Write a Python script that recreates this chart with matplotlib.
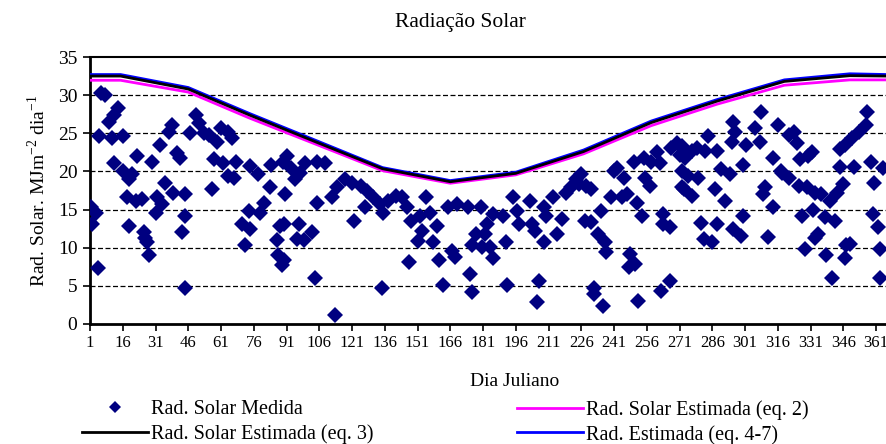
import matplotlib
matplotlib.use('Agg')
import matplotlib.pyplot as plt

plt.rcParams['font.family'] = ['Liberation Serif', 'DejaVu Serif']
plt.rcParams['mathtext.fontset'] = 'custom'
plt.rcParams['mathtext.rm'] = 'Liberation Serif'

# measured daily radiation (Julian day, MJ m-2 day-1)
dias_med = [
    1.5, 2, 3.7, 4.5, 5, 6, 8, 9.8, 11, 12, 12, 13.6, 16, 16, 18, 19, 19, 20.4,
    22, 22.7, 25, 25.7, 26, 27, 28, 29.5, 31, 31.8, 33, 34, 35.5, 37, 38.5, 39,
    41, 42, 43, 44.6, 44.6, 44.6,
    47, 49.5, 51, 53, 55.5, 57, 58, 59, 61, 62, 64, 64, 66, 67, 68, 70.7, 72,
    73.7, 74.5, 74.5, 78, 79, 80.5, 83.6, 84, 86.6, 87, 88, 89, 89.6,
    90, 90, 90.5, 91, 93, 95, 96, 96.6, 97, 99, 99.6, 102.7, 104, 105, 105,
    108.7, 111.8, 113, 114, 117.8, 121, 122, 125, 127, 128, 130.7, 133.7,
    134.5, 135,
    137.5, 141, 144, 146, 147, 148, 151, 152, 153, 155, 156.5, 158, 160, 161,
    162.5, 164.8, 167, 168, 169, 174, 175, 176, 176, 177.7, 180, 180.7,
    182, 183, 184, 185.5, 185.5, 190, 191.5, 192, 194.5, 196.7, 197.5, 202.7,
    203.5, 205, 205.7, 206.5, 208.7, 208.7, 210, 213, 214.7, 217, 219, 221.5,
    223.7, 225, 226, 227.5,
    228, 230.5, 230.5, 232, 232, 233.7, 235, 236, 236.7, 237.5, 239.5, 241,
    242.5, 244.7, 245.5, 247, 247.7, 248.5, 250, 250.7, 251.5, 252, 253.7,
    254.5, 255, 257.5, 258, 260.5, 262, 262.5, 263.5, 263.5, 266.5, 266.5,
    267, 270, 271, 272,
    272, 272, 273, 273.6, 275, 276.6, 276.7, 279, 279.6, 281, 282, 282.7, 284,
    285.7, 287.2, 288, 288, 290, 291.8, 294, 294.8, 295.5, 295.5, 296.3,
    299.3, 300, 300, 301.6, 305.4, 307.7, 308.4, 309, 310, 311.5, 313.7,
    313.7, 316, 317.5,
    318, 321, 321, 323.5, 325, 325.5, 326, 327, 328.4, 329.4, 330, 331.5, 332,
    333, 333, 334.5, 336, 337.5, 338, 339.8, 341, 342, 343, 344.3, 344.3,
    345.8, 346.6, 346.6, 347.4, 349, 350, 351, 353.4, 356.4, 357, 358.7,
    359.5, 360, 362, 362.7, 362.7, 364,
]
rad_med = [
    15.3, 13.1, 14.6, 7.3, 24.6, 30.3, 30.0, 26.5, 24.4, 27.4, 21.1, 28.3, 24.6,
    20.0, 16.6, 19.0, 12.9, 19.6, 16.1, 22.0, 16.4, 12.0, 11.3, 10.7, 9.0, 21.3,
    14.6, 16.6, 23.5, 15.7, 18.5, 25.2, 26.1, 17.2, 22.4, 21.8, 12.0, 17.0,
    14.2, 4.7,
    25.0, 27.4, 26.3, 25.0, 24.8, 17.7, 21.6, 23.9, 25.7, 21.1, 25.2, 19.4,
    24.4, 19.2, 21.3, 13.1, 10.3, 14.8, 20.7, 12.5, 19.6, 14.6, 15.9, 17.9,
    20.9, 11.0, 9.0, 12.9, 7.7, 21.3,
    13.1, 8.4, 17.0, 22.0, 20.5, 19.0, 11.2, 13.1, 19.8, 11.0, 21.1, 12.0, 6.0,
    21.3, 15.9, 21.1, 16.6, 1.2, 17.9, 19.0, 18.5, 13.5, 18.1, 15.3, 17.4,
    16.6, 15.7, 4.7, 14.6,
    16.1, 16.8, 16.6, 15.3, 8.1, 13.5, 10.9, 14.2, 12.2, 16.6, 14.6, 10.7,
    12.9, 8.4, 5.1, 15.3, 9.6, 8.8, 15.7, 15.3, 6.6, 4.2, 10.4, 11.8, 15.3,
    10.1,
    11.8, 13.1, 10.1, 14.4, 8.6, 14.2, 10.7, 5.1, 16.6, 14.8, 13.1, 16.1, 13.1,
    12.2, 2.9, 5.6, 15.3, 10.7, 14.2, 16.6, 11.8, 13.7, 17.2, 17.9, 19.0, 18.3,
    19.6, 13.5,
    18.1, 17.7, 13.4, 4.7, 3.9, 11.8, 14.8, 2.3, 10.7, 9.4, 16.6, 20.0, 20.4,
    16.6, 19.2, 17.0, 7.5, 9.2, 21.3, 7.9, 15.9, 3.0, 14.2, 21.8, 19.2, 18.1,
    21.3, 22.6, 21.1, 4.3, 14.4, 13.1, 12.7, 5.6, 23.1, 23.7, 22.2, 17.9,
    23.3, 20.0, 17.7, 21.8, 19.4, 16.8, 22.7, 23.1, 19.2, 13.3, 11.2, 22.7,
    24.6, 10.7, 17.7, 22.7, 13.1, 20.3, 16.1, 19.6, 23.9, 26.5, 12.4, 25.2,
    11.5, 20.9, 14.1, 23.5, 25.7, 23.9, 27.8, 17.1, 18.0, 11.4, 21.8, 15.3,
    26.1, 20.0,
    19.8, 24.8, 19.2, 25.2, 23.7, 18.1, 21.6, 14.2, 9.8, 17.9, 22.0, 22.5,
    15.0, 17.2, 11.3, 11.8, 17.0, 14.0, 9.0, 16.1, 6.0, 13.5, 17.2, 20.6, 22.9,
    18.3, 23.5, 8.6, 10.3, 10.5, 24.4, 20.6, 25.2, 26.1, 27.8, 21.3, 14.4,
    18.5, 12.7, 9.8, 6.0, 20.5,
]

# estimated curves (monthly nodes)
dias_est = [1, 15, 46, 74, 105, 135, 166, 196, 227, 258, 288, 319, 349, 366]
rad_eq2 = [31.95, 31.95, 30.4, 27.0, 23.5, 20.1, 18.45, 19.55, 22.3, 26.0, 28.8, 31.3, 32.0, 32.0]
rad_eq3 = [32.5, 32.5, 30.8, 27.4, 23.8, 20.35, 18.65, 19.75, 22.6, 26.4, 29.2, 31.8, 32.55, 32.5]
rad_eq47 = [32.7, 32.7, 31.0, 27.6, 24.0, 20.5, 18.8, 19.9, 22.8, 26.6, 29.4, 32.0, 32.8, 32.7]

xticks = list(range(1, 366, 15))
yticks = [0, 5, 10, 15, 20, 25, 30, 35]

fig = plt.figure(figsize=(8.87, 4.44), dpi=100)
fig.patch.set_facecolor('white')
ax = fig.add_axes([90 / 887, 120 / 444, 797 / 887, 267 / 444])

for v in yticks[1:-1]:
    ax.axhline(v, color='black', lw=0.9, ls=(0, (4, 2)), zorder=1)

sc, = ax.plot(dias_med, rad_med, ls='none', marker='D', ms=7.8, mfc='#000080',
              mec='#000080', mew=0, zorder=3)
l2, = ax.plot(dias_est, rad_eq2, color='#FF00FF', lw=2, zorder=4)
l47, = ax.plot(dias_est, rad_eq47, color='#0000FF', lw=2, zorder=4)
l3, = ax.plot(dias_est, rad_eq3, color='black', lw=2, zorder=5)

ax.set_xlim(1, 366)
ax.set_ylim(0, 35)
ax.set_xticks(xticks)
ax.set_xticklabels([str(t) for t in xticks])
ax.set_yticks(yticks)
ax.tick_params(axis='both', direction='out', length=5, width=1.2, colors='black')
ax.tick_params(axis='x', labelsize=12, pad=3)
ax.tick_params(axis='y', labelsize=14, pad=4)
ax.spines['right'].set_visible(False)
for s in ['left', 'bottom']:
    ax.spines[s].set_linewidth(2)
ax.spines['top'].set_linewidth(1.5)

ax.set_ylabel('Rad. Solar. MJm$^{\\mathregular{-2}}$ dia$^{\\mathregular{-1}}$',
              fontsize=14, labelpad=6)

fig.text(460 / 887, 1 - 22 / 444, 'Radiação Solar', ha='center', va='center', fontsize=15.5)
fig.text(515 / 887, 1 - 381 / 444, 'Dia Juliano', ha='center', va='center', fontsize=14)

leg_kw = dict(frameon=False, fontsize=14.5, handlelength=3.3, handletextpad=0.15,
              labelspacing=0.25, borderaxespad=0, borderpad=0)
fig.legend([sc, l3], ['Rad. Solar Medida', 'Rad. Solar Estimada (eq. 3)'],
           loc='upper left', bbox_to_anchor=(82 / 887, 1 - 400 / 444),
           markerscale=0.8, **leg_kw)
fig.legend([l2, l47], ['Rad. Solar Estimada (eq. 2)', 'Rad. Estimada (eq. 4-7)'],
           loc='upper left', bbox_to_anchor=(517 / 887, 1 - 400 / 444), **leg_kw)

fig.savefig('out.png', dpi=100, facecolor='white')
